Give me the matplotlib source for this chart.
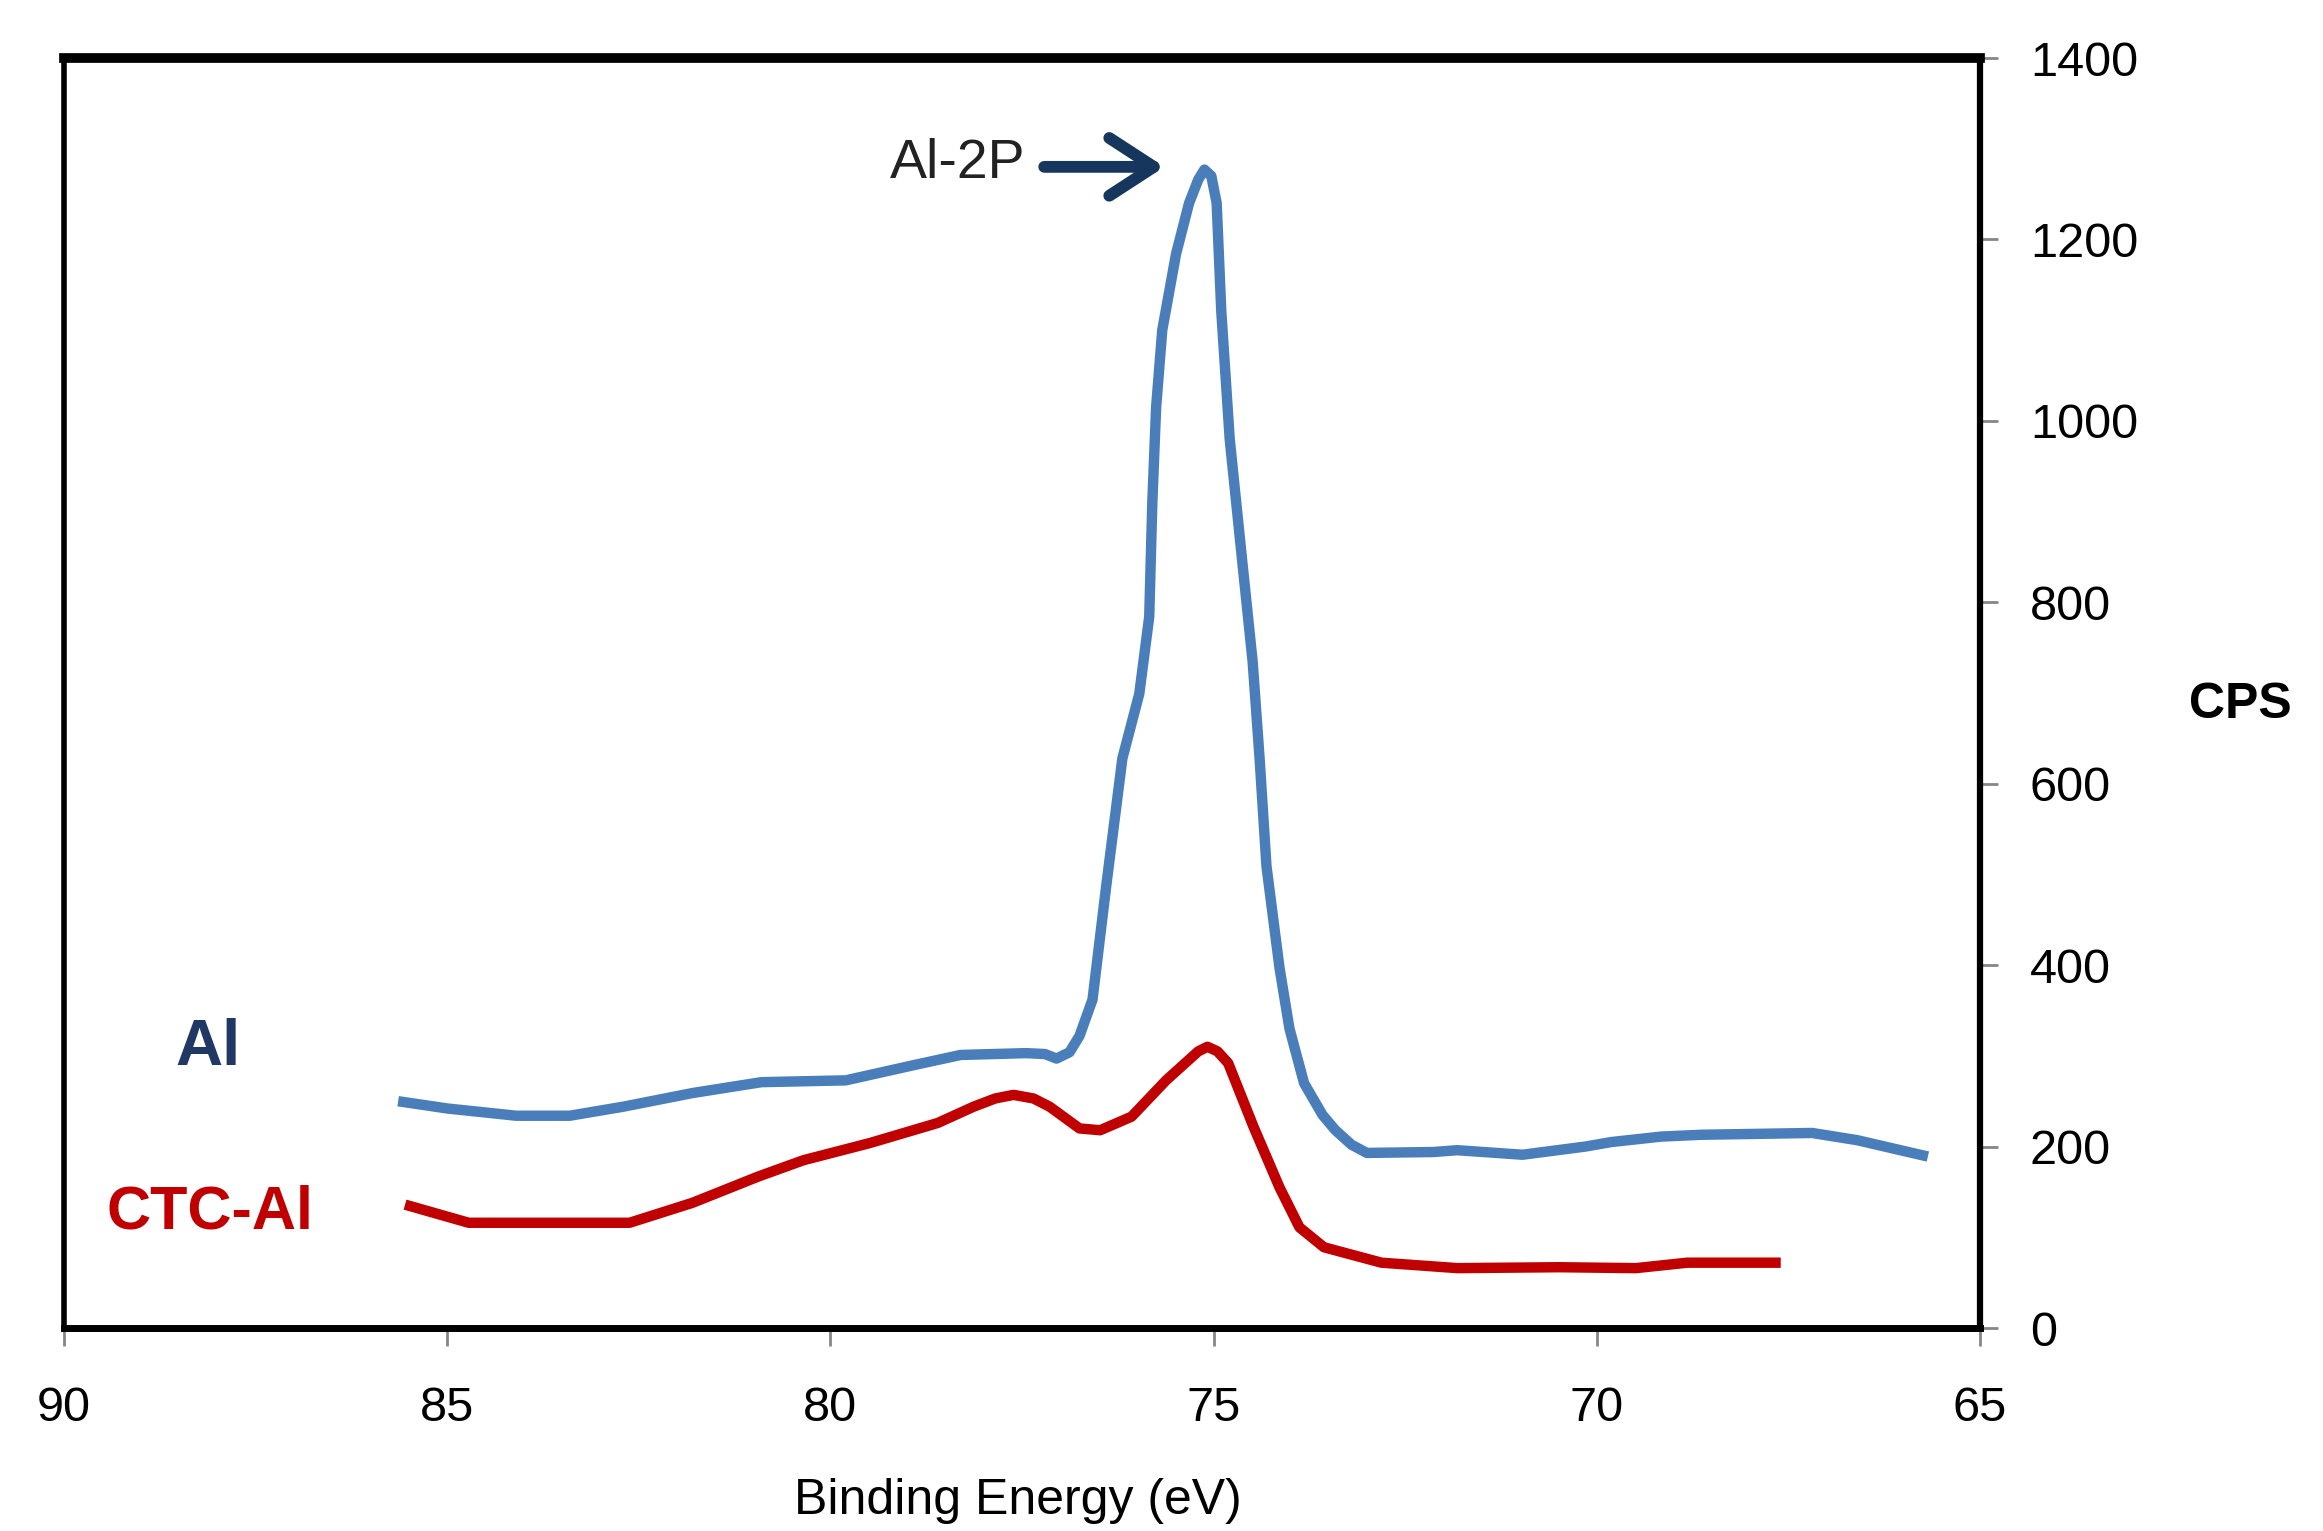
import numpy as np
import matplotlib
matplotlib.use('Agg')
import matplotlib.pyplot as plt

#%% data

# Al (blue)
al_be = [85.64, 85.0, 84.1, 83.4, 82.7, 81.8, 80.9, 79.8, 78.9, 78.3, 77.45,
         77.2, 77.05, 76.88, 76.75, 76.58, 76.40, 76.19, 75.97, 75.84, 75.80,
         75.75, 75.67, 75.49, 75.32, 75.2, 75.12, 75.03, 74.96, 74.90, 74.79,
         74.62, 74.49, 74.40, 74.31, 74.14, 74.01, 73.82, 73.58, 73.41, 73.2,
         73.0, 72.13, 71.82, 70.97, 70.15, 69.81, 69.16, 68.64, 67.19, 66.60, 65.68]
al_cps = [250, 242, 234, 234, 244, 259, 271, 273, 290, 301, 303,
          302, 297, 304, 322, 362, 488, 628, 699, 784, 909,
          1015, 1100, 1184, 1240, 1266, 1277, 1270, 1240, 1121, 980,
          840, 734, 628, 509, 397, 330, 270, 235, 218, 202,
          193, 194, 196, 191, 200, 205, 211, 213, 215, 207, 189]

# CTC-Al (red)
ctc_be = [85.55, 84.72, 83.84, 82.62, 81.80, 80.94, 80.35, 79.48, 78.60, 78.13,
          77.85, 77.61, 77.35, 77.14, 76.75, 76.48, 76.07, 75.62, 75.2, 75.08,
          74.95, 74.81, 74.48, 74.14, 73.88, 73.56, 72.81, 71.82, 70.49, 69.49,
          68.82, 67.60]
ctc_cps = [136, 116, 116, 116, 138, 167, 185, 204, 226, 244,
           253, 257, 253, 244, 220, 218, 233, 273, 305, 310,
           305, 292, 222, 155, 111, 89, 72, 66, 67, 66,
           72, 72]

x_ticks = [90, 85, 80, 75, 70, 65]
y_ticks = [0, 200, 400, 600, 800, 1000, 1200, 1400]

#%% plot

plt.rcParams['font.family'] = ['Liberation Sans', 'DejaVu Sans']

fig = plt.figure(figsize=(23.23, 15.31), dpi=100)
ax = fig.add_axes([64/2323, 1 - 1328/1531, (1980 - 64)/2323, (1328 - 58)/1531])

ax.plot(al_be, al_cps, color='#4A7EBB', lw=7.5, solid_joinstyle='round', solid_capstyle='butt')
ax.plot(ctc_be, ctc_cps, color='#C00000', lw=7.5, solid_joinstyle='round', solid_capstyle='butt')

ax.set_xlim(90, 65)
ax.set_ylim(0, 1400)
ax.set_xticks(x_ticks)
ax.set_yticks(y_ticks)

ax.yaxis.tick_right()
ax.tick_params(axis='both', direction='out', color='#868686', length=13, width=2,
               labelsize=35, labelcolor='black')
ax.tick_params(axis='y', pad=23)
ax.tick_params(axis='x', pad=29)

ax.spines['top'].set_linewidth(7)
ax.spines['left'].set_linewidth(4)
ax.spines['right'].set_linewidth(4.5)
ax.spines['bottom'].set_linewidth(5)
for s in ax.spines.values():
    s.set_color('black')

# annotations
ax.annotate('', xy=(75.64, 1280), xytext=(77.21, 1280),
            arrowprops=dict(arrowstyle='->,head_length=0.4,head_width=0.26',
                            color='#17365D', lw=8.5, mutation_scale=80,
                            shrinkA=0, shrinkB=0))
ax.text(78.34, 1268, 'Al-2P', fontsize=40, ha='center', va='baseline', color='#222222')
ax.text(88.12, 290, 'Al', fontsize=47, fontweight='bold', ha='center', va='baseline',
        color='#1F3864')
ax.text(88.10, 110, 'CTC-Al', fontsize=44, fontweight='bold', ha='center', va='baseline',
        color='#C00000')

fig.text(1018/2323, 1 - 1514/1531, 'Binding Energy (eV)', fontsize=36,
         ha='center', va='baseline')
fig.text(2240/2323, 1 - 718/1531, 'CPS', fontsize=36, fontweight='bold',
         ha='center', va='baseline')

fig.savefig('out.png', dpi=100)
